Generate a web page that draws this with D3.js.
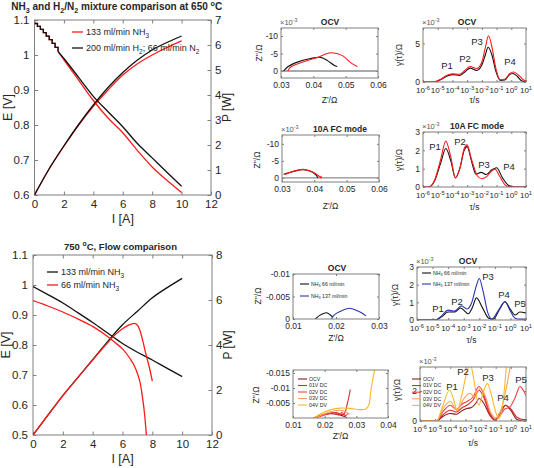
<!DOCTYPE html>
<html><head><meta charset="utf-8">
<script src="https://cdn.jsdelivr.net/npm/d3@7"></script>
<style>body{margin:0;background:#fff} svg{display:block}</style>
</head><body><script>
// ---------------- DATA ----------------
// Top-left: 650 °C, NH3 vs H2/N2 mixture
const tlStepI  = [0,0.2,0.4,0.6,0.8,1,1.2,1.4,1.6];
const tlStepE  = [1.09,1.082,1.073,1.064,1.054,1.044,1.033,1.022,1.01];
const tlI      = [1.6,2,3,4,5,6,7,8,9,10];
const tlE_NH3  = [1.01,0.986,0.928,0.87,0.82,0.778,0.727,0.68,0.642,0.607];
const tlE_H2N2 = [1.01,0.99,0.936,0.882,0.838,0.795,0.747,0.706,0.665,0.625];
const tlPI     = [0,1,2,3,4,5,6,7,8,9,10];
const tlP_NH3  = [0,1.05,1.95,2.8,3.55,4.2,4.8,5.25,5.6,5.9,6.17];
const tlP_H2N2 = [0,1.05,1.97,2.82,3.6,4.3,4.9,5.4,5.8,6.1,6.36];
// Bottom-left: 750 °C flow comparison
const blI133 = [0,1,2,3,4,5,6,7,8,9,10];
const blE133 = [0.995,0.968,0.94,0.908,0.875,0.84,0.805,0.776,0.75,0.722,0.695];
const blP133 = [0,0.88,1.75,2.55,3.35,4.15,4.9,5.5,6.1,6.55,6.96];
const blI66  = [0,1,2,3,4,5,5.5,6,6.5,6.8,7,7.2,7.3,7.5,7.6,7.8,8];
const blE66  = [0.948,0.93,0.91,0.887,0.862,0.828,0.808,0.787,0.755,0.73,0.705,0.67,0.64,0.56,0.5,0.4,0.3];
const blPI66 = [0,1,2,3,4,5,5.5,6,6.4,6.8,7.0,7.15,7.35,7.55,7.8,8];
const blP66  = [0,0.88,1.75,2.55,3.33,4.1,4.45,4.72,4.88,4.96,4.88,4.68,4.22,3.65,3.0,2.4];
const iTicks = [0,2,4,6,8,10,12];
const eTicksTL = [0.6,0.7,0.8,0.9,1,1.1];
const pTicksTL = [0,1,2,3,4,5,6,7];
const eTicksBL = [0.5,0.6,0.7,0.8,0.9,1,1.1];
const pTicksBL = [0,2,4,6,8];

// Nyquist (Z' [Ω], Z'' [x1e-3 Ω]) — top two rows
const nyqOCV_black = [[0.0308,0],[0.0321,-1.2],[0.0346,-2.4],[0.0392,-3.6],[0.0423,-3.9],[0.0445,-2.9],[0.0465,-1.6],[0.0474,-1.3]];
const nyqOCV_red   = [[0.0321,0],[0.0331,-1.2],[0.0372,-2.7],[0.0413,-3.9],[0.0454,-5.2],[0.049,-4.4],[0.0515,-2.4],[0.0536,-1.3]];
const nyqFC_black  = [[0.0305,-1.1],[0.0336,-1.9],[0.0362,-2.4],[0.0383,-2.1],[0.0404,-1.0],[0.0411,0]];
const nyqFC_red    = [[0.031,-1.0],[0.0336,-2.0],[0.0365,-2.5],[0.0388,-2.0],[0.0408,-1.0],[0.0422,0],[0.042,-0.6]];
// Nyquist flow comparison (Ω)
const nyqFlow66  = [[0.0152,0],[0.0162,-0.0008],[0.0178,-0.0014],[0.0187,-0.0009],[0.0193,-0.0004]];
const nyqFlow137 = [[0.0189,0],[0.0196,-0.0009],[0.0208,-0.0016],[0.0232,-0.0024],[0.0248,-0.0019],[0.0259,-0.0014],[0.027,-0.0007]];
// Nyquist polarisation series (Ω)
const nyqOCV  = [[0.0165,0],[0.019,-0.0009],[0.0215,-0.0014],[0.024,-0.0012],[0.0262,-0.0005],[0.027,-0.0002]];
const nyq01V  = [[0.0168,0],[0.02,-0.0012],[0.0235,-0.0018],[0.026,-0.0012],[0.0272,-0.005],[0.0281,-0.0095]];
const nyq02V  = [[0.017,0],[0.0205,-0.0012],[0.023,-0.0018],[0.0245,-0.001],[0.0255,-0.0018],[0.0265,-0.0008],[0.0275,-0.0016]];
const nyq03V  = [[0.0172,0],[0.02,-0.0014],[0.023,-0.0024],[0.0255,-0.0025],[0.027,-0.0018],[0.028,-0.0012]];
const nyq04V  = [[0.0165,0],[0.019,-0.0015],[0.022,-0.0028],[0.025,-0.0033],[0.028,-0.0032],[0.031,-0.0028],[0.033,-0.003],[0.034,-0.0045],[0.0345,-0.0085],[0.0352,-0.013],[0.036,-0.017]];

// DRT: [log10(τ/s), γ x1e-3 Ω]
const drtOCV_black = [[-6,0],[-5.3,0],[-4.8,0.3],[-4.4,0.75],[-4.0,0.95],[-3.5,0.85],[-3.1,1.4],[-2.8,1.8],[-2.35,1.5],[-2.0,2.2],[-1.75,3.6],[-1.58,4.5],[-1.3,3.4],[-1.05,1.4],[-0.75,0.2],[-0.45,0.25],[-0.15,0.9],[0.1,1.1],[0.4,0.75],[0.7,0.15],[1,0]];
const drtOCV_red   = [[-6,0],[-5.3,0],[-4.8,0.35],[-4.4,0.85],[-4.0,1.05],[-3.5,1.0],[-3.1,1.6],[-2.8,2.0],[-2.35,1.75],[-2.0,2.6],[-1.75,4.6],[-1.55,6.0],[-1.3,4.4],[-1.05,1.8],[-0.75,0.3],[-0.45,0.35],[-0.1,1.1],[0.15,1.3],[0.5,0.9],[0.8,0.3],[1,0.15]];
const drtFC_black  = [[-6,0],[-5.6,0],[-5.2,0.35],[-4.8,1.3],[-4.45,2.1],[-4.1,1.4],[-3.8,0.5],[-3.5,1.0],[-3.2,2.0],[-3.0,2.2],[-2.7,1.4],[-2.4,0.7],[-2.05,0.8],[-1.7,0.68],[-1.3,0.95],[-1.0,1.05],[-0.6,0.5],[-0.2,0.1],[0.2,0],[1,0]];
const drtFC_red    = [[-6,0],[-5.6,0],[-5.2,0.4],[-4.8,1.5],[-4.45,2.5],[-4.1,1.6],[-3.8,0.5],[-3.5,1.0],[-3.2,2.1],[-3.0,2.3],[-2.7,1.5],[-2.3,0.6],[-2.0,0.45],[-1.7,0.55],[-1.3,0.9],[-1.1,0.97],[-0.8,0.6],[-0.4,0.1],[-0.1,0],[1,0]];
const drtFlow66    = [[-6,0],[-4.8,0],[-4.4,0.2],[-4.0,0.45],[-3.6,0.45],[-3.2,0.68],[-2.7,0.35],[-2.45,0.7],[-2.18,1.25],[-1.8,0.7],[-1.4,0.1],[-1.1,0.05],[-0.7,0.6],[-0.35,1.03],[0,0.6],[0.3,0.28],[0.6,0.45],[1,0.4]];
const drtFlow137   = [[-6,0],[-4.8,0],[-4.4,0.25],[-4.0,0.56],[-3.6,0.5],[-3.15,0.8],[-2.8,0.62],[-2.5,0.95],[-2.2,1.9],[-2.0,2.35],[-1.75,1.6],[-1.45,0.4],[-1.2,0.05],[-0.8,0.5],[-0.36,1.03],[0.0,0.5],[0.3,0.1],[0.6,0.05],[1,0.05]];
const drtOCV  = [[-6,0],[-4.9,0],[-4.5,0.3],[-4.0,0.5],[-3.6,0.45],[-3.2,0.7],[-2.9,0.83],[-2.6,0.9],[-2.3,1.2],[-2.1,1.5],[-1.8,1.2],[-1.4,0.4],[-1.05,0.05],[-0.7,0.5],[-0.35,1.05],[0,0.7],[0.4,0.1],[0.8,0],[1,0]];
const drt01V  = [[-6,0],[-4.9,0],[-4.5,0.4],[-4.0,0.72],[-3.6,0.6],[-3.2,0.9],[-2.9,1.05],[-2.5,1.4],[-2.1,2.05],[-1.8,1.6],[-1.4,0.5],[-1.05,0.1],[-0.7,0.6],[-0.35,1.05],[0,0.8],[0.4,0.25],[0.8,0.1],[1,0.1]];
const drt02V  = [[-6,0],[-4.9,0],[-4.5,0.6],[-4.0,1.05],[-3.6,0.75],[-3.2,1.15],[-2.9,1.3],[-2.5,1.6],[-2.1,2.3],[-1.8,1.8],[-1.4,0.6],[-1.05,0.1],[-0.7,0.4],[-0.4,0.8],[-0.1,0.9],[0.3,1.6],[0.6,2.3],[0.85,2.0],[1,1.7]];
const drt03V  = [[-6,0],[-4.9,0],[-4.5,0.8],[-4.0,1.3],[-3.55,0.7],[-3.1,1.5],[-2.7,1.85],[-2.4,1.6],[-2.0,2.2],[-1.7,1.7],[-1.3,0.5],[-0.95,0.2],[-0.6,0.9],[-0.3,2.2],[-0.1,3.3],[0.1,4.5],[0.4,6],[1,6]];
const drt04V  = [[-6,0],[-4.9,0],[-4.5,1.0],[-4.05,2.07],[-3.8,1.5],[-3.55,0.72],[-3.2,1.9],[-2.9,3.3],[-2.67,3.75],[-2.4,2.5],[-2.13,1.05],[-1.8,2.0],[-1.55,2.5],[-1.3,1.8],[-1.0,0.6],[-0.8,0.15],[-0.55,1.0],[-0.35,3.0],[-0.2,5],[0,8],[1,8]];

const seriesNames5 = ["OCV","01V DC","02V DC","03V DC","04V DV"];
const seriesColors5 = ["#8b1a1a","#d42a2a","#f03c3c","#f8a060","#fbb829"];
const logTickExps = [-6,-5,-4,-3,-2,-1,0,1];

// ---------------- DRAWING ----------------
const FONT = '"Liberation Sans", Arial, Helvetica, sans-serif';
const TXT = "#262626", AXC = "#7f7f7f";
const RED = "#ff1a1a", BLK = "#111111", BLUE = "#2b35b0";
const svg = d3.select("body").append("svg").attr("width",534).attr("height",468)
  .style("font-family",FONT);

function rich(g, x, y, parts, fs, anchor, extra){
  const t = g.append("text").attr("x",x).attr("y",y).attr("font-size",fs)
    .attr("fill",TXT).attr("text-anchor",anchor||"start");
  if(extra) extra(t);
  let shift = 0;
  parts.forEach(([s,m])=>{
    const target = m==="sup" ? -fs*0.4 : m==="sub" ? fs*0.28 : 0;
    const ts = t.append("tspan").text(s).attr("dy", target-shift);
    if(m) ts.attr("font-size", fs*0.72);
    shift = target;
  });
  return t;
}
let clipN = 0;
function clip(x0,y0,x1,y1){
  const id = "c"+(clipN++);
  svg.append("clipPath").attr("id",id).append("rect")
    .attr("x",x0).attr("y",y0).attr("width",x1-x0).attr("height",y1-y0);
  return "url(#"+id+")";
}
function axis(g, orient, scale, ticks, fmt, fs, pad, tick){
  const mk = {left:d3.axisLeft,right:d3.axisRight,bottom:d3.axisBottom,top:d3.axisTop}[orient];
  const a = mk(scale).tickValues(ticks).tickFormat(fmt).tickSizeInner(-tick).tickSizeOuter(0).tickPadding(pad);
  g.call(a);
  g.select(".domain").remove();
  g.selectAll("text").attr("font-size",fs).attr("font-family",FONT).attr("fill",TXT);
  g.selectAll("line").attr("stroke",AXC);
}
function frame(x0,y0,x1,y1){
  svg.append("rect").attr("x",x0).attr("y",y0).attr("width",x1-x0).attr("height",y1-y0)
    .attr("fill","none").attr("stroke",AXC).attr("stroke-width",1);
}

// ---- big panels ----
function bigPanel(c){
  const x = d3.scaleLinear().domain([0,12]).range([c.x0,c.x1]);
  const yE = d3.scaleLinear().domain(c.eDom).range([c.y1,c.y0]);
  const yP = d3.scaleLinear().domain(c.pDom).range([c.y1,c.y0]);
  const fs = 11.5, tk = 3.5;
  axis(svg.append("g").attr("transform",`translate(0,${c.y1})`),"bottom",x,iTicks,d=>d,fs,5,tk);
  axis(svg.append("g").attr("transform",`translate(0,${c.y0})`),"top",x,iTicks,"",fs,5,tk);
  axis(svg.append("g").attr("transform",`translate(${c.x0},0)`),"left",yE,c.eTicks,d=>String(d),fs,5,tk);
  axis(svg.append("g").attr("transform",`translate(${c.x1},0)`),"right",yP,c.pTicks,d=>String(d),fs,4,tk);
  frame(c.x0,c.y0,c.x1,c.y1);
  const cp = clip(c.x0,c.y0,c.x1,c.y1);
  c.curves.forEach(s=>{
    const pts = s.I.map((v,i)=>[v,s.v[i]]);
    const yy = s.axis==="E"?yE:yP;
    svg.append("path").attr("clip-path",cp).attr("fill","none").attr("stroke",s.color).attr("stroke-width",1.3)
      .attr("d", d3.line().x(d=>x(d[0])).y(d=>yy(d[1])).curve(s.step?d3.curveStepAfter:d3.curveMonotoneX)(pts));
  });
  c.legend.forEach(l=>{
    svg.append("line").attr("x1",c.lx).attr("x2",c.lx+11).attr("y1",l.y).attr("y2",l.y)
      .attr("stroke",l.color).attr("stroke-width",1.3);
    rich(svg,c.lx+14,l.y+3.3,l.parts,9);
  });
  rich(svg,(c.x0+c.x1)/2+c.tdx,c.y0-c.tdy,c.title,c.tfs,"middle",t=>t.attr("font-weight","bold"));
  svg.append("text").attr("x",(c.x0+c.x1)/2).attr("y",c.y1+28).attr("text-anchor","middle")
    .attr("font-size",12.5).attr("fill",TXT).text("I [A]");
  svg.append("text").attr("transform",`translate(${c.x0-23},${(c.y0+c.y1)/2}) rotate(-90)`).attr("text-anchor","middle")
    .attr("font-size",12.5).attr("fill",TXT).text("E [V]");
  svg.append("text").attr("transform",`translate(${c.x1+20},${(c.y0+c.y1)/2}) rotate(-90)`).attr("text-anchor","middle")
    .attr("font-size",12).attr("fill",TXT).text("P [W]");
}

bigPanel({x0:34.5,x1:211,y0:20,y1:195,eDom:[0.6,1.1],pDom:[0,7],eTicks:eTicksTL,pTicks:pTicksTL,
  curves:[
    {I:tlStepI,v:tlStepE,axis:"E",color:RED,step:true},
    {I:tlI,v:tlE_NH3,axis:"E",color:RED},{I:tlPI,v:tlP_NH3,axis:"P",color:RED},
    {I:tlI,v:tlE_H2N2,axis:"E",color:BLK},{I:tlPI,v:tlP_H2N2,axis:"P",color:BLK},
    {I:tlStepI,v:tlStepE,axis:"E",color:BLK,step:true}],
  lx:72,legend:[{y:32,color:RED,parts:[["133 ml/min NH",""],["3","sub"]]},
                {y:48,color:BLK,parts:[["200 ml/min H",""],["2","sub"],["; 66 ml/min N",""],["2","sub"]]}],
  title:[["NH",""],["3","sub"],[" and H",""],["2","sub"],["/N",""],["2","sub"],[" mixture comparison at 650 ",""],["o","sup"],["C",""]],
  tfs:10,tdx:-6,tdy:10});

bigPanel({x0:33,x1:212,y0:255,y1:435,eDom:[0.5,1.1],pDom:[0,8],eTicks:eTicksBL,pTicks:pTicksBL,
  curves:[
    {I:blI133,v:blE133,axis:"E",color:BLK},{I:blI133,v:blP133,axis:"P",color:BLK},
    {I:blI66,v:blE66,axis:"E",color:RED},{I:blPI66,v:blP66,axis:"P",color:RED}],
  lx:47,legend:[{y:272,color:BLK,parts:[["133 ml/min NH",""],["3","sub"]]},
                {y:285,color:RED,parts:[["66 ml/min NH",""],["3","sub"]]}],
  title:[["750 ",""],["o","sup"],["C, Flow comparison",""]],
  tfs:9.5,tdx:-2,tdy:5});

// ---- small panels ----
function smallPanel(c){
  const x = c.log ? d3.scaleLog().domain(c.xdom).range([c.x0,c.x1]) : d3.scaleLinear().domain(c.xdom).range([c.x0,c.x1]);
  const y = d3.scaleLinear().domain(c.ydom).range([c.y1,c.y0]);
  const fs = 8.5, tk = 2;
  if(c.log){
    const ticks = logTickExps.map(e=>Math.pow(10,e));
    axis(svg.append("g").attr("transform",`translate(0,${c.y1})`),"bottom",x,ticks,"",fs,4,tk);
    logTickExps.forEach(e=>{
      rich(svg,x(Math.pow(10,e)),c.y1+11,[["10",""],[String(e),"sup"]],8,"middle");
    });
  } else {
    axis(svg.append("g").attr("transform",`translate(0,${c.y1})`),"bottom",x,c.xticks,d=>String(d),fs,4,tk);
  }
  axis(svg.append("g").attr("transform",`translate(0,${c.y0})`),"top",x,c.log?logTickExps.map(e=>Math.pow(10,e)):c.xticks,"",fs,4,tk);
  axis(svg.append("g").attr("transform",`translate(${c.x0},0)`),"left",y,c.yticks,d=>String(d),fs,3,tk);
  axis(svg.append("g").attr("transform",`translate(${c.x1},0)`),"right",y,c.yticks,"",fs,3,tk);
  const cp = clip(c.x0,c.y0,c.x1,c.y1);
  if(c.zeroLine){
    svg.append("line").attr("clip-path",cp).attr("x1",c.x0).attr("x2",c.x1).attr("y1",y(0)).attr("y2",y(0))
      .attr("stroke","#8c8c8c").attr("stroke-width",1.4);
  }
  c.curves.forEach(s=>{
    const line = d3.line().x(d=>x(c.log?Math.pow(10,d[0]):d[0])).y(d=>y(d[1]))
      .curve(c.log?d3.curveMonotoneX:d3.curveCatmullRom);
    svg.append("path").attr("clip-path",cp).attr("fill","none").attr("stroke",s.color)
      .attr("stroke-width",1.1).attr("d",line(s.d));
  });
  frame(c.x0,c.y0,c.x1,c.y1);
  if(c.mult) rich(svg,c.x0-1,c.y0-3,[["\u00d710",""],["-3","sup"]],7.5,"start",t=>t.attr("fill","#555"));
  rich(svg,c.tx,c.y0-3,[[c.title,""]],8.5,"middle",t=>t.attr("font-weight","bold"));
  (c.peaks||[]).forEach(p=>{
    svg.append("text").attr("x",p[1]).attr("y",p[2]+3).attr("text-anchor","middle").attr("font-size",9.5)
      .attr("fill",TXT).text(p[0]);
  });
  (c.legend||[]).forEach(l=>{
    svg.append("line").attr("x1",l.x).attr("x2",l.x+9).attr("y1",l.y).attr("y2",l.y).attr("stroke",l.color).attr("stroke-width",1.1);
    rich(svg,l.x+11,l.y+1.8,l.parts,5.2);
  });
  // axis labels
  const yl = c.log ? [["\u03b3(\u03c4)/\u03a9",""]] : [["Z''/\u03a9",""]];
  rich(svg,0,0,yl,8.5,"middle",t=>t.attr("transform",`translate(${c.ylx},${c.yly}) rotate(-90)`));
  const xl = c.log ? [["\u03c4/s",""]] : [["Z'/\u03a9",""]];
  rich(svg,(c.x0+c.x1)/2,c.xly,xl,8.5,"middle");
}

// A: OCV Nyquist (top)
smallPanel({x0:281,x1:378,y0:28,y1:78,xdom:[0.03,0.06],ydom:[2,-12.3],xticks:[0.03,0.04,0.05,0.06],yticks:[-10,-5,0],
  zeroLine:true,mult:true,title:"OCV",tx:330,ylx:262,yly:53,xly:103,
  curves:[{d:nyqOCV_black,color:BLK},{d:nyqOCV_red,color:RED}]});
// B: OCV DRT (top)
smallPanel({log:true,x0:423,x1:526,y0:28,y1:82,xdom:[1e-6,1e1],ydom:[0,7],yticks:[0,5],
  mult:true,title:"OCV",tx:467,ylx:402,yly:55,xly:103,
  peaks:[["P1",447,66],["P2",465,59],["P3",477,42],["P4",510,62]],
  curves:[{d:drtOCV_black,color:BLK},{d:drtOCV_red,color:RED}]});
// C: 10A FC Nyquist
smallPanel({x0:282,x1:379,y0:135,y1:182,xdom:[0.03,0.06],ydom:[1.2,-12.6],xticks:[0.03,0.04,0.05,0.06],yticks:[-10,-5,0],
  zeroLine:true,mult:true,title:"10A FC mode",tx:340,ylx:260,yly:160,xly:209,
  curves:[{d:nyqFC_black,color:BLK},{d:nyqFC_red,color:RED}]});
// D: 10A FC DRT
smallPanel({log:true,x0:423,x1:526,y0:132,y1:187,xdom:[1e-6,1e1],ydom:[0,3],yticks:[0,1,2,3],
  mult:true,title:"10A FC mode",tx:477,ylx:402,yly:160,xly:210,
  peaks:[["P1",435,147],["P2",460,142],["P3",484,165],["P4",509,167]],
  curves:[{d:drtFC_black,color:BLK},{d:drtFC_red,color:RED}]});
// E: flow OCV Nyquist
smallPanel({x0:293,x1:379,y0:274,y1:319,xdom:[0.01,0.03],ydom:[0,-0.01],xticks:[0.01,0.02,0.03],yticks:[-0.01,-0.005,0],
  title:"OCV",tx:337,ylx:261,yly:296,xly:341,
  legend:[{x:300,y:284,color:BLK,parts:[["NH",""],["3","sub"],[" 66 ml/min",""]]},
          {x:300,y:296,color:BLUE,parts:[["NH",""],["3","sub"],[" 137 ml/min",""]]}],
  curves:[{d:nyqFlow66,color:BLK},{d:nyqFlow137,color:BLUE}]});
// F: flow OCV DRT
smallPanel({log:true,x0:417,x1:526,y0:267,y1:320,xdom:[1e-6,1e1],ydom:[0,3],yticks:[0,1,2,3],
  mult:true,title:"OCV",tx:468,ylx:398,yly:295,xly:343,
  peaks:[["P1",438,309],["P2",457,302],["P3",488,277],["P4",504,295],["P5",520,304]],
  legend:[{x:422,y:273,color:BLK,parts:[["NH",""],["3","sub"],[" 66 ml/min",""]]},
          {x:422,y:284,color:BLUE,parts:[["NH",""],["3","sub"],[" 137 ml/min",""]]}],
  curves:[{d:drtFlow66,color:BLK},{d:drtFlow137,color:BLUE}]});
// G: polarisation Nyquist
smallPanel({x0:293,x1:388,y0:370,y1:418,xdom:[0.01,0.04],ydom:[0,-0.016],xticks:[0.01,0.02,0.03,0.04],yticks:[-0.015,-0.01,-0.005],
  title:"",tx:340,ylx:259,yly:395,xly:439,
  legend:seriesNames5.map((n,i)=>({x:298,y:379+i*6.5,color:seriesColors5[i],parts:[[n,""]]})),
  curves:[nyqOCV,nyq01V,nyq02V,nyq03V,nyq04V].map((d,i)=>({d,color:seriesColors5[i]}))});
// H: polarisation DRT
smallPanel({log:true,x0:420,x1:526,y0:367,y1:421,xdom:[1e-6,1e1],ydom:[0,3.6],yticks:[0,2],
  mult:true,title:"",tx:470,ylx:400,yly:390,xly:446,
  peaks:[["P1",452,387],["P2",463,372],["P3",488,378],["P4",503,398],["P5",521,380]],
  legend:seriesNames5.map((n,i)=>({x:412,y:379+i*6.6,color:seriesColors5[i],parts:[[n,""]]})),
  curves:[drtOCV,drt01V,drt02V,drt03V,drt04V].map((d,i)=>({d,color:seriesColors5[i]}))});
</script></body></html>
